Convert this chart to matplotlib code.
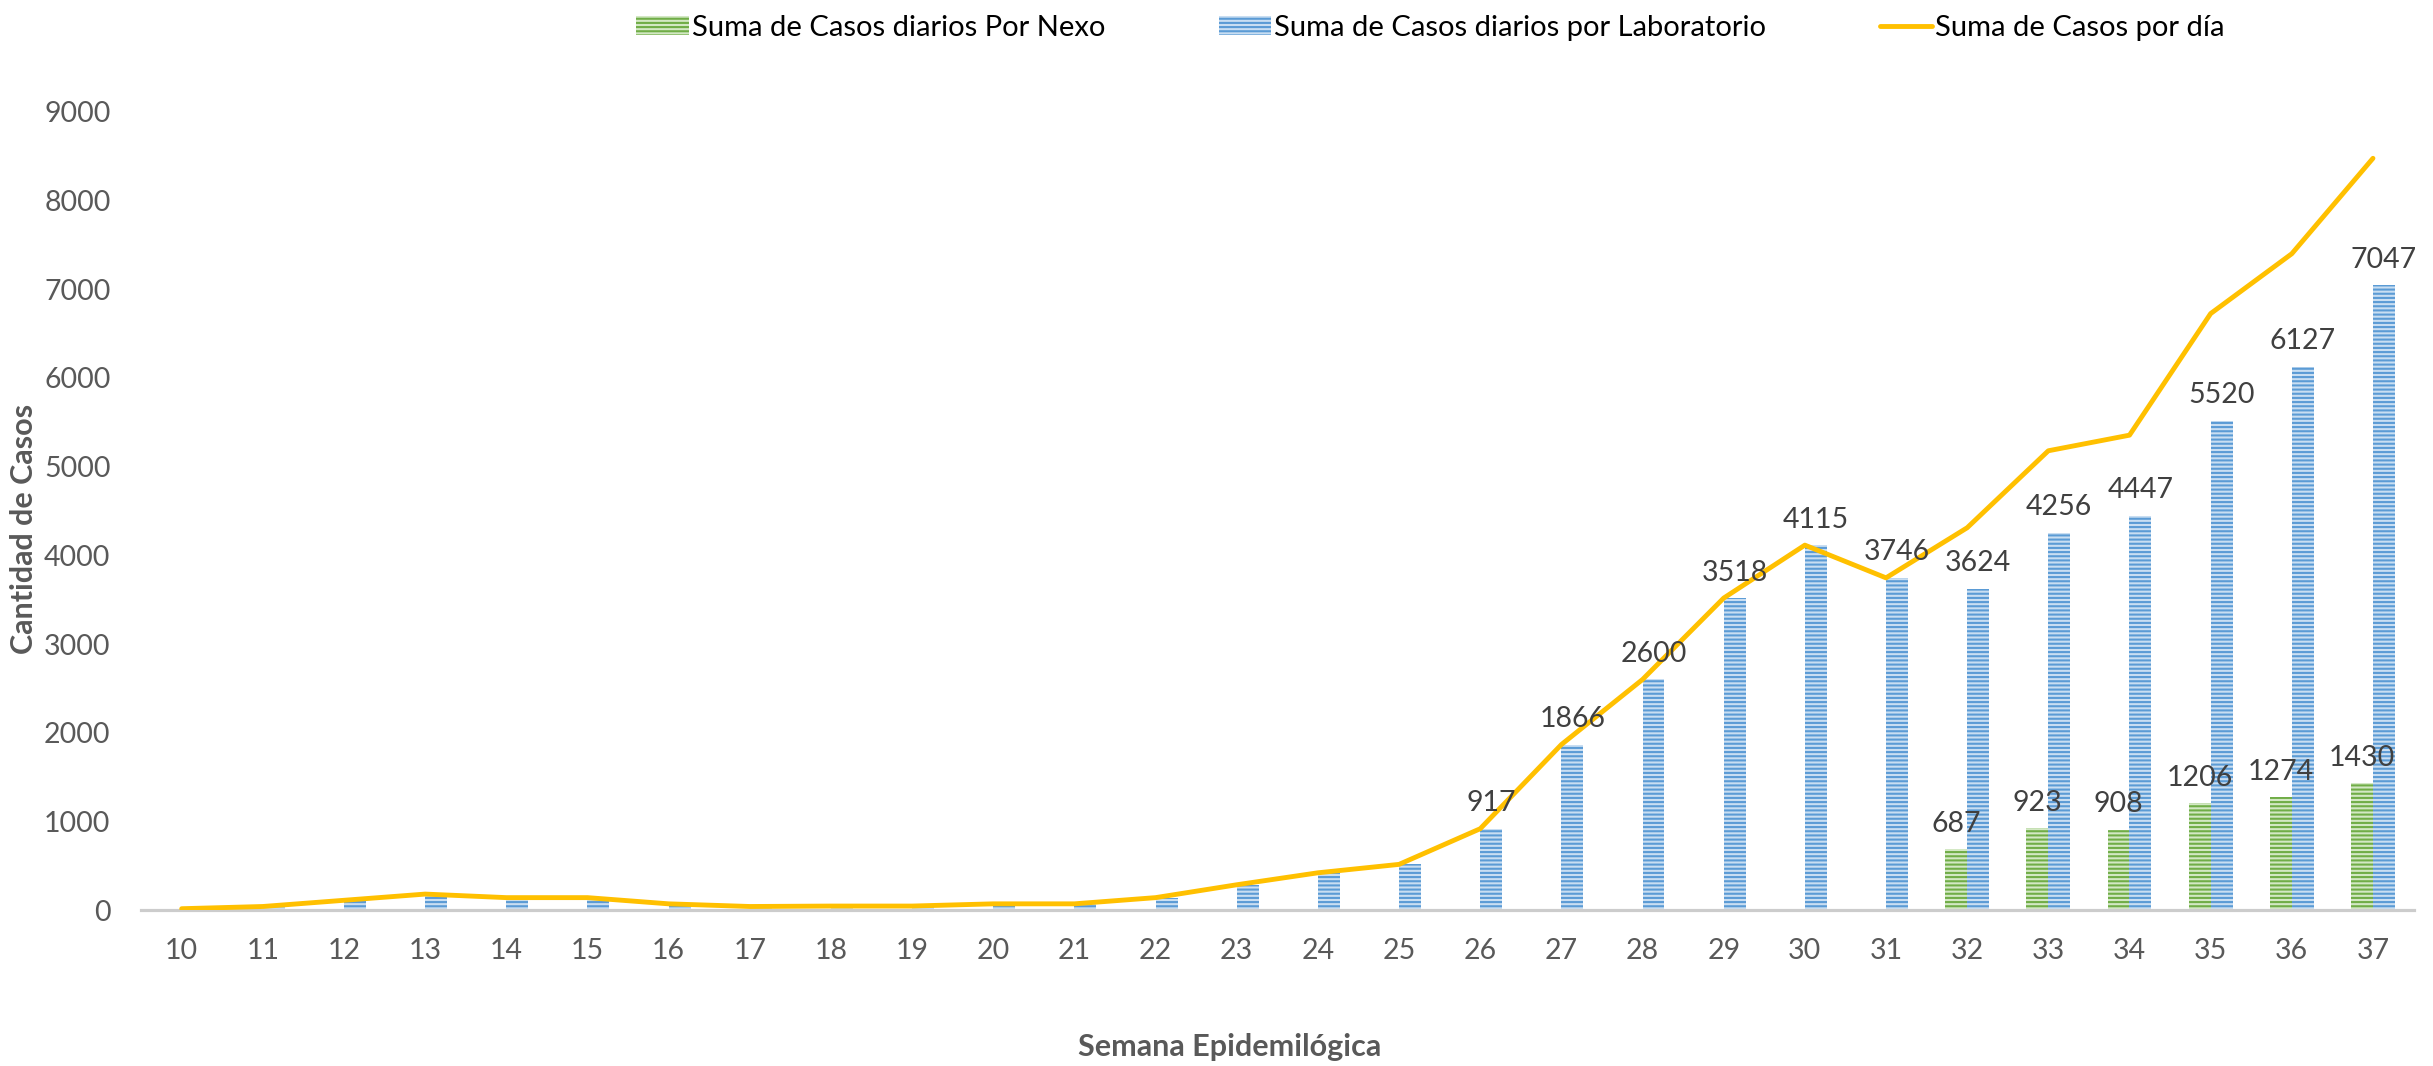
import matplotlib.pyplot as plt
import numpy as np

plt.rcParams["font.family"] = ["Lato", "DejaVu Sans"]
plt.rcParams["hatch.linewidth"] = 1.5

weeks = list(range(10, 38))
nexo = [0, 0, 0, 0, 0, 0, 0, 0, 0, 0, 0, 0, 0, 0, 0, 0, 0, 0, 0, 0, 0, 0,
        687, 923, 908, 1206, 1274, 1430]
laboratorio = [15, 40, 110, 180, 140, 140, 70, 40, 45, 45, 70, 70, 140, 285,
               420, 515, 917, 1866, 2600, 3518, 4115, 3746, 3624, 4256, 4447,
               5520, 6127, 7047]
total = [15, 40, 110, 180, 140, 140, 70, 40, 45, 45, 70, 70, 140, 285,
         420, 515, 917, 1866, 2600, 3518, 4115, 3746, 4311, 5179, 5355,
         6726, 7401, 8477]
y_ticks = [0, 1000, 2000, 3000, 4000, 5000, 6000, 7000, 8000, 9000]

fig = plt.figure(figsize=(24.33, 10.66), dpi=100)
ax = fig.add_axes([0.058, 0.1463, 0.934, 0.7487])

x = np.arange(len(weeks))
w = 0.27
b_nexo = ax.bar(x - w / 2, nexo, w, facecolor="#d3e8c4", edgecolor="#70ad47",
                hatch="----", linewidth=0, label="Suma de Casos diarios Por Nexo")
b_lab = ax.bar(x + w / 2, laboratorio, w, facecolor="#c9def2", edgecolor="#5b9bd5",
               hatch="----", linewidth=0, label="Suma de Casos diarios por Laboratorio")
ln, = ax.plot(x, total, color="#ffc000", lw=3.5, solid_capstyle="round",
              solid_joinstyle="round", label="Suma de Casos por día", zorder=3)

# data labels only on the larger values, as in the original
for xs, vals in ((x - w / 2, nexo), (x + w / 2, laboratorio)):
    for xi, v in zip(xs, vals):
        if v > 600:
            ax.annotate(str(v), (xi, v), xytext=(0, 9), textcoords="offset points",
                        ha="center", va="bottom", fontsize=20.5, color="#404040",
                        zorder=4)

ax.set_xlim(-0.5, len(weeks) - 0.5)
ax.set_ylim(0, 9000)
ax.set_xticks(x)
ax.set_xticklabels([str(v) for v in weeks])
ax.set_yticks(y_ticks)
ax.tick_params(axis="both", length=0, labelsize=20.5, labelcolor="#595959")
ax.tick_params(axis="x", pad=20)
ax.tick_params(axis="y", pad=22)
for side in ("top", "right", "left"):
    ax.spines[side].set_visible(False)
ax.spines["bottom"].set_color("#cccccc")
ax.spines["bottom"].set_linewidth(2.3)

fig.text(0.5055, 0.018, "Semana Epidemilógica", ha="center", va="center",
         fontsize=22, fontweight="bold", color="#595959")
fig.text(0.01, 0.504, "Cantidad de Casos", ha="center", va="center",
         rotation=90, fontsize=22, fontweight="bold", color="#595959")

fig.legend(handles=[b_nexo, b_lab, ln], loc="center", bbox_to_anchor=(0.588, 0.974),
           ncol=3, frameon=False, fontsize=21, handlelength=1.8, handleheight=0.65,
           handletextpad=0.1, columnspacing=3.9)

fig.savefig("out.png", dpi=100)
